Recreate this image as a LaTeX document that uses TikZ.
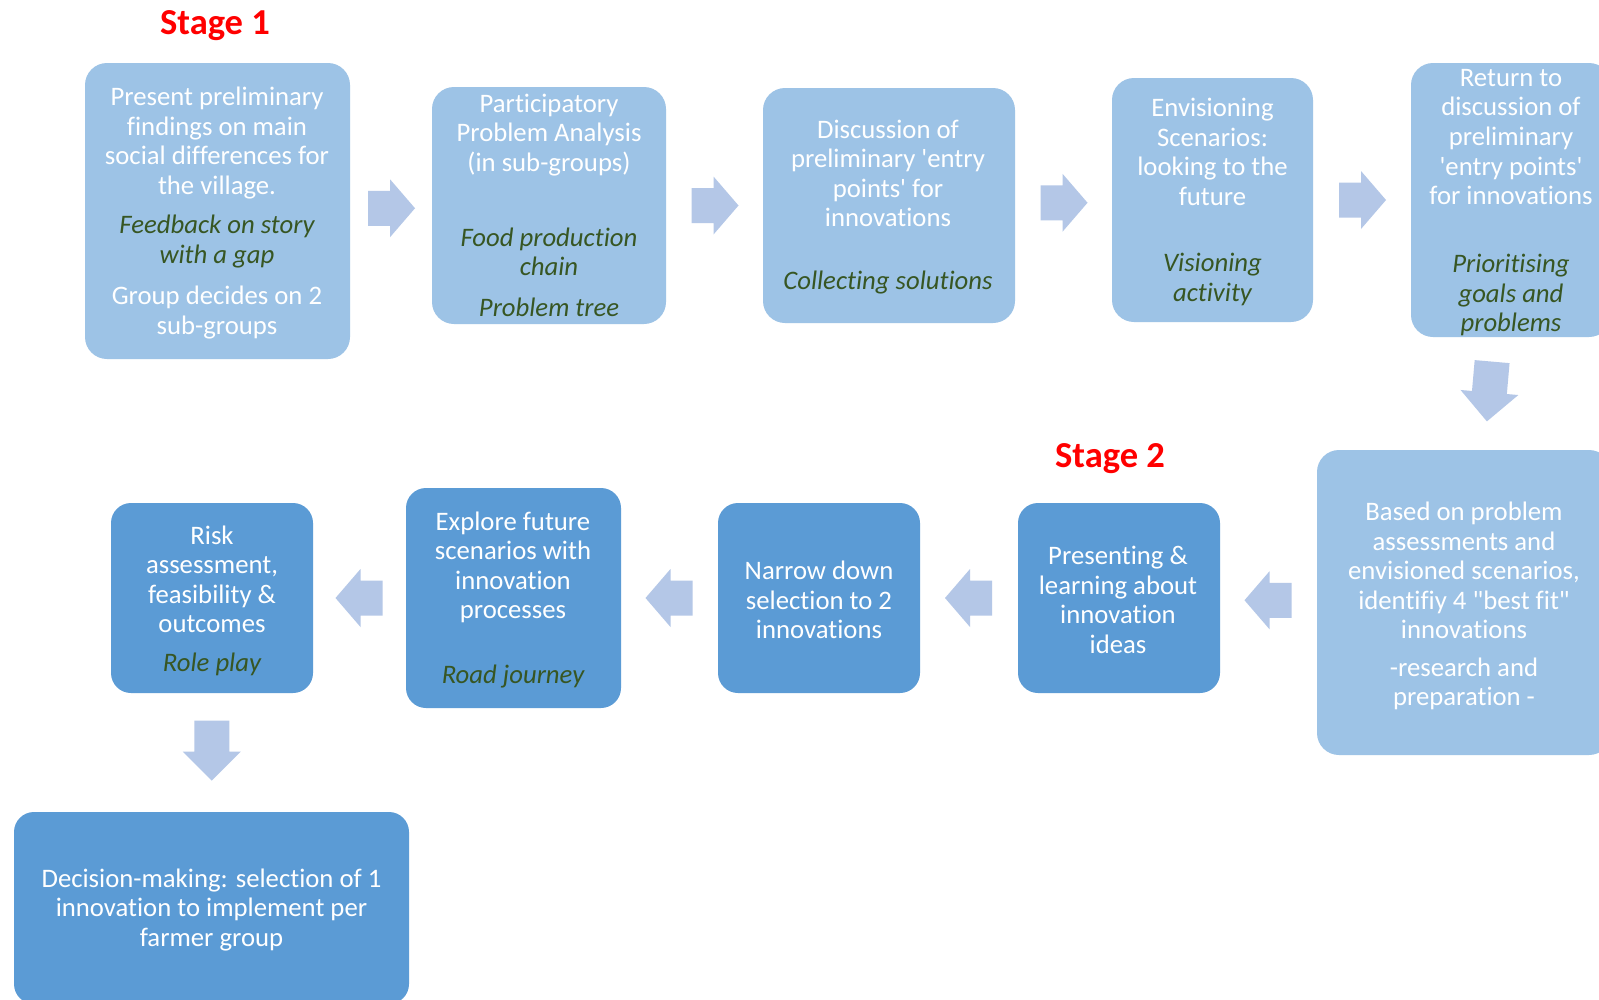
\documentclass[tikz,border=0pt]{standalone}
\usepackage{fontspec}
\setmainfont{Carlito}[Ligatures={TeXOff,NoCommon}]
\usetikzlibrary{calc}
\definecolor{lightbox}{HTML}{9DC3E6}
\definecolor{darkbox}{HTML}{5B9BD5}
\definecolor{arrowfill}{HTML}{B4C7E7}
\definecolor{itgreen}{HTML}{375623}
\newcommand\pxu{0.025cm}
\newcommand\sq{\char39\relax}
\newcommand\dq{\char34\relax}
% name, position, angle, tail, head base, tip
\newcommand\blockarrow[6]{%
  \begin{scope}[shift={#2}, rotate=#3]
    \coordinate (#1) at (0,0);
    \fill[arrowfill] (#4,-17.5) -- (#5,-17.5) -- (#5,-29) -- (#6,0) -- (#5,29) -- (#5,17.5) -- (#4,17.5) -- cycle;
  \end{scope}}
\begin{document}
\begin{tikzpicture}[x=0.025cm,y=-0.025cm,
  lbox/.style={fill=lightbox, rounded corners=0.55cm, inner sep=0pt},
  dbox/.style={fill=darkbox, rounded corners=0.5cm, inner sep=0pt},
  wt/.style={text=white, align=center, inner sep=0pt, font=\fontsize{19}{21}\selectfont},
  gt/.style={text=itgreen, align=center, inner sep=0pt, font=\fontsize{19}{21}\selectfont\itshape},
  stage/.style={text=red, inner sep=0pt, font=\fontsize{26}{30}\selectfont\bfseries}]
\useasboundingbox (0,0) rectangle (1599,1000);
\fill[white] (0,0) rectangle (1599,1000);
\clip (0,0) rectangle (1599,1000);

% boxes
\node[lbox, minimum width=265*\pxu, minimum height=296*\pxu] (b1) at (217.5,211) {};
\node[lbox, minimum width=234*\pxu, minimum height=237*\pxu] (b2) at (549,205.5) {};
\node[lbox, minimum width=252*\pxu, minimum height=235*\pxu] (b3) at (889,205.5) {};
\node[lbox, minimum width=201*\pxu, minimum height=244*\pxu] (b4) at (1212.5,200) {};
\node[lbox, minimum width=200*\pxu, minimum height=274*\pxu] (b5) at (1511,200) {};
\node[lbox, minimum width=294*\pxu, minimum height=305*\pxu] (b6) at (1464,602.5) {};
\node[dbox, minimum width=202*\pxu, minimum height=190*\pxu] (b7) at (1119,598) {};
\node[dbox, minimum width=202*\pxu, minimum height=190*\pxu] (b8) at (819,598) {};
\node[dbox, minimum width=215*\pxu, minimum height=220*\pxu] (b9) at (513.5,598) {};
\node[dbox, minimum width=202*\pxu, minimum height=190*\pxu] (b10) at (212,598) {};
\node[dbox, minimum width=395*\pxu, minimum height=192*\pxu] (b11) at (211.5,908) {};

% stage labels
\node[stage] (s1) at (215,26) {Stage 1};
\node[stage] (s2) at (1110,459) {Stage 2};

% texts
\node[wt] (t1a) at (217,143) {Present preliminary\\findings on main\\social differences for\\the village.};
\node[gt] (t1b) at (217,241.5) {Feedback on story\\with a gap};
\node[wt] (t1c) at (217,312.5) {Group decides on 2\\sub-groups};

\node[wt] (t2a) at (549,135) {Participatory\\Problem Analysis\\(in sub-groups)};
\node[gt] (t2b) at (549,252) {Food production\\chain};
\node[gt] (t2c) at (549,307) {Problem tree};

\node[wt] (t3a) at (888,173.5) {Discussion of\\preliminary \sq entry\\points\sq{} for\\innovations};
\node[gt] (t3b) at (888,282.5) {Collecting solutions};

\node[wt] (t4a) at (1212.5,152) {Envisioning\\Scenarios:\\looking to the\\future};
\node[gt] (t4b) at (1212.5,279.5) {Visioning\\activity};

\node[wt] (t5a) at (1511,137) {Return to\\discussion of\\preliminary\\\sq entry points\sq\\for innovations};
\node[gt] (t5b) at (1511,295) {Prioritising\\goals and\\problems};

\node[wt] (t6a) at (1464,570.5) {Based on problem\\assessments and\\envisioned scenarios,\\identifiy 4 \dq best fit\dq\\innovations};
\node[wt] (t6b) at (1464,684) {-research and\\preparation -};

\node[wt] (t7) at (1118,600) {Presenting \&\\learning about\\innovation\\ideas};
\node[wt] (t8) at (819,600) {Narrow down\\selection to 2\\innovations};
\node[wt] (t9a) at (513,567.5) {Explore future\\scenarios with\\innovation\\processes};
\node[gt] (t9b) at (513,676.5) {Road journey};
\node[wt] (t10a) at (212,579.5) {Risk\\assessment,\\feasibility \&\\outcomes};
\node[gt] (t10b) at (212,664.5) {Role play};
\node[wt] (t11) at (211.5,910) {Decision-making: selection of 1\\innovation to implement per\\farmer group};

% block arrows
\blockarrow{a12}{($(b1.east)!0.5!(b2.west)$)}{0}{-23}{-1}{24}
\blockarrow{a23}{($(b2.east)!0.5!(b3.west)$)}{0}{-23}{-1}{24}
\blockarrow{a34}{($(b3.east)!0.5!(b4.west)$)}{0}{-23}{-1}{24}
\blockarrow{a45}{($(b4.east)!0.5!(b5.west)$)}{0}{-23}{-1}{24}
\blockarrow{a56}{($(b5.south)!0.5!(b6.north)+(2,-2)$)}{-95}{-30}{1}{30}
\blockarrow{a67}{($(b6.west)!0.5!(b7.east)$)}{180}{-23}{-1}{24}
\blockarrow{a78}{($(b7.west)!0.5!(b8.east)$)}{180}{-23}{-1}{24}
\blockarrow{a89}{($(b8.west)!0.5!(b9.east)$)}{180}{-23}{-1}{24}
\blockarrow{a910}{($(b9.west)!0.5!(b10.east)$)}{180}{-23}{-1}{24}
\blockarrow{a1011}{($(b10.south)!0.5!(b11.north)+(0,-2)$)}{-90}{-30}{1}{30}
\end{tikzpicture}
\end{document}
